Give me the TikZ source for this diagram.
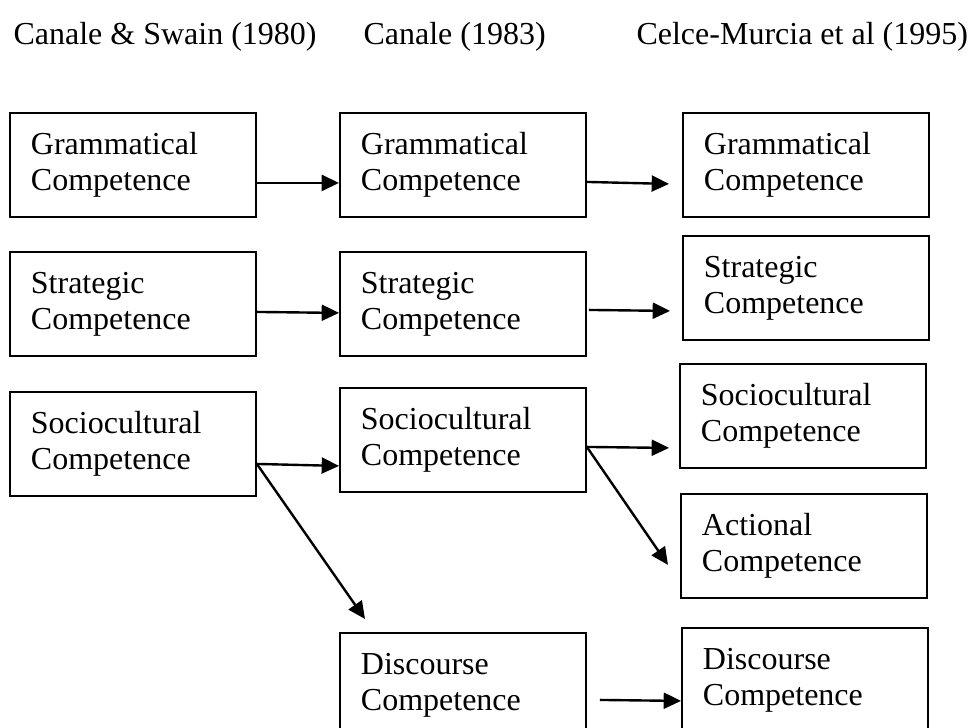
\documentclass[tikz,border=0pt]{standalone}
\usepackage{fontspec}
\setmainfont{Liberation Serif}
\usetikzlibrary{arrows.meta,calc}

\begin{document}
\begin{tikzpicture}[
 x=0.375pt, y=-0.375pt, >={Triangle[length=6.5pt,width=6pt]},
 font=\fontsize{12}{13.5}\selectfont,
 box/.style={draw, line width=0.7pt, anchor=north west, align=left, text width=76.5pt,
  inner xsep=7.875pt, inner ysep=0pt, minimum height=39pt},
 head/.style={anchor=base west, inner sep=0pt},
 every edge/.style={draw, ->, line width=0.9pt}]
\useasboundingbox (0,0) rectangle (972,728);
\clip (0,0) rectangle (972,728);
% headings
\node[head] (h1) at (13,44) {Canale \& Swain (1980)};
\node[head] (h2) at (363,44) {Canale (1983)};
\node[head] (h3) at (636,44) {Celce-Murcia et al (1995)};
% 1980
\node[box] (g1) at (9,112) {Grammatical\\ Competence};
\node[box] (s1) at (9,251) {Strategic\\ Competence};
\node[box] (sc1) at (9,391) {Sociocultural\\ Competence};
% 1983
\node[box] (g2) at (339,112) {Grammatical\\ Competence};
\node[box] (s2) at (339,251) {Strategic\\ Competence};
\node[box] (sc2) at (339,387) {Sociocultural\\ Competence};
\node[box] (d2) at (339,632) {Discourse\\ Competence};
% 1995
\node[box] (g3) at (682,112) {Grammatical\\ Competence};
\node[box] (s3) at (682,235) {Strategic\\ Competence};
\node[box] (sc3) at (679,363) {Sociocultural\\ Competence};
\node[box] (a3) at (680,493) {Actional\\ Competence};
\node[box] (d3) at (681,627) {Discourse\\ Competence};
\draw ($(g1.east)+(0,18)$) edge ($(g2.west)+(0,18)$)
 ($(g2.east)+(0,17)$) edge ($(g3.west)+(-13,19)$)
 ($(s1.east)+(0,8)$) edge ($(s2.west)+(0,9)$)
 ($(s2.east)+(2,6)$) edge ($(s3.west)+(-12,23)$)
 ($(sc1.east)+(0,20)$) edge ($(sc2.west)+(0,26)$)
 ($(sc1.east)+(0,20)$) edge ($(d2.north west)+(26,-13)$)
 ($(sc2.east)+(0,7)$) edge ($(sc3.west)+(-10,32)$)
 ($(sc2.east)+(0,7)$) edge ($(a3.west)+(-12,19)$)
 ($(d2.east)+(13,15)$) edge ($(d3.west)+(0,21)$);
\end{tikzpicture}
\end{document}
